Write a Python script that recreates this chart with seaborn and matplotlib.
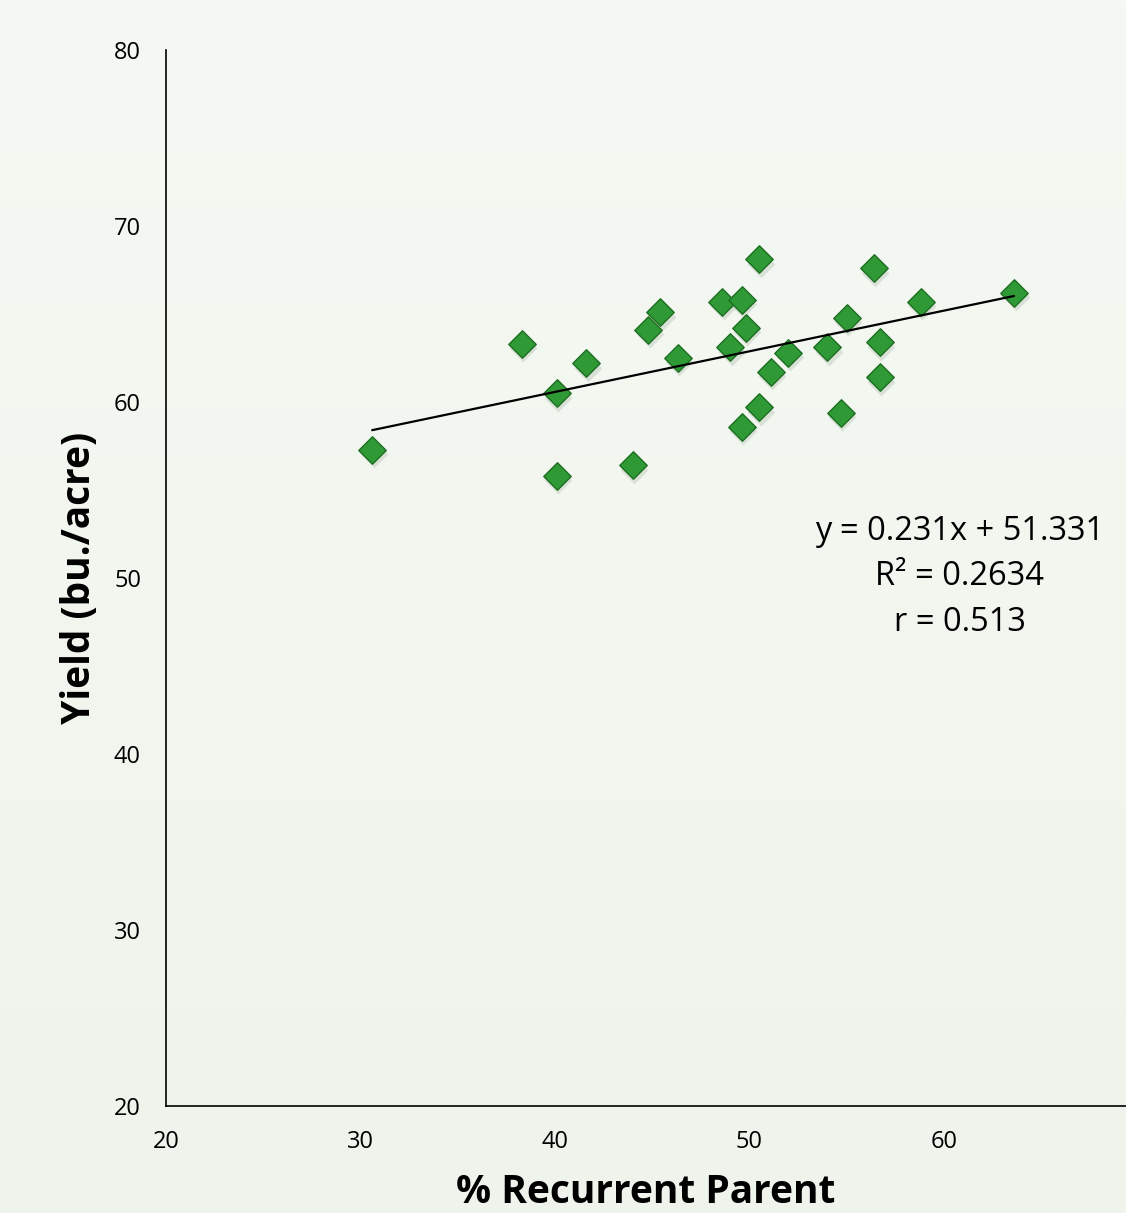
import numpy as np
import pandas as pd
import matplotlib
matplotlib.use('Agg')
import matplotlib.pyplot as plt
import seaborn as sns

# % recurrent parent vs yield
recurrent_pct = [30.6, 38.3, 40.1, 40.1, 41.6, 44.0, 44.8, 45.4, 46.3, 48.6, 49.0, 49.6, 49.6,
                 49.8, 50.5, 50.5, 51.1, 52.0, 54.0, 54.7, 55.0, 56.4, 56.7, 56.7, 58.8, 63.6]
yield_bu = [57.3, 63.3, 60.5, 55.8, 62.2, 56.4, 64.1, 65.1, 62.5, 65.7, 63.1, 65.8, 58.6,
            64.2, 68.1, 59.7, 61.7, 62.8, 63.1, 59.4, 64.8, 67.6, 63.4, 61.4, 65.7, 66.2]

slope = 0.231
intercept = 51.331
eq_lines = ["y = 0.231x + 51.331", "R² = 0.2634", "r = 0.513"]

x_ticks = [20, 30, 40, 50, 60]
y_ticks = [20, 30, 40, 50, 60, 70, 80]

df = pd.DataFrame({'pct': recurrent_pct, 'yield': yield_bu})

sns.set_style('white')
plt.rcParams['font.family'] = ['Open Sans', 'DejaVu Sans']

fig = plt.figure(figsize=(11.26, 12.13), dpi=100)

# soft green background gradient
bg = fig.add_axes([0, 0, 1, 1], zorder=-10)
top = np.array([245, 249, 243]) / 255
bot = np.array([238, 243, 235]) / 255
t = np.linspace(0, 1, 256)[:, None, None]
grad = top * (1 - t) + bot * t
bg.imshow(grad, aspect='auto', extent=[0, 1, 0, 1])
bg.axis('off')

ax = fig.add_axes([166 / 1126, 107 / 1213, 960 / 1126, 1056 / 1213])
ax.set_facecolor('none')

# soft shadow under the diamonds
ax.scatter(np.array(recurrent_pct) + 0.08, np.array(yield_bu) - 0.25, marker='D', s=200,
           color='#c9d3c6', alpha=0.6, linewidths=0, zorder=2)
sns.scatterplot(data=df, x='pct', y='yield', marker='D', s=195,
                color='#2f9a35', edgecolor='#1d6e22', linewidth=1.0, ax=ax, zorder=3)

xs = np.array([min(recurrent_pct), max(recurrent_pct)])
ax.plot(xs, slope * xs + intercept, color='black', linewidth=1.6, zorder=4)

ax.set_xlim(20, 69.36)
ax.set_ylim(20, 80)
ax.set_xticks(x_ticks)
ax.set_yticks(y_ticks)
ax.tick_params(length=0, labelsize=17, colors='black')
ax.tick_params(axis='y', pad=18)
ax.tick_params(axis='x', pad=17)

for side in ['top', 'right']:
    ax.spines[side].set_visible(False)
for side in ['left', 'bottom']:
    ax.spines[side].set_color('black')
    ax.spines[side].set_linewidth(1.2)

ax.set_xlabel('% Recurrent Parent', fontsize=28, fontweight='bold', color='black')
ax.set_ylabel('Yield (bu./acre)', fontsize=28, fontweight='bold', color='black')
ax.xaxis.set_label_coords(0.5, -0.063)
ax.yaxis.set_label_coords(-86 / 960, 0.5)
ax.yaxis.label.set_va('center')

for line, yy in zip(eq_lines, [0.5445, 0.501, 0.458]):
    ax.text(0.827, yy, line, transform=ax.transAxes, fontsize=23.5,
            ha='center', va='center', color='black')

fig.savefig('out.png', dpi=100)
